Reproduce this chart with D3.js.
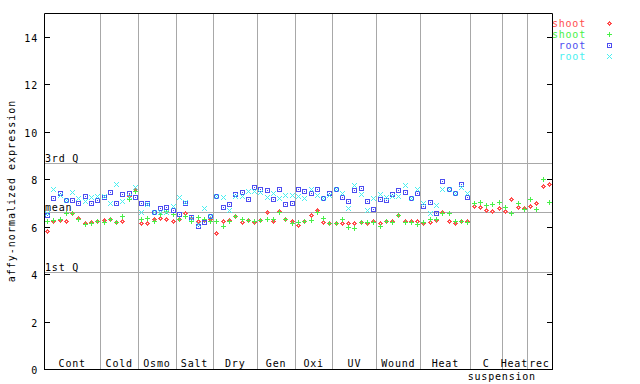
<!DOCTYPE html>
<html><head><meta charset="utf-8">
<script src="https://cdn.jsdelivr.net/npm/d3@7"></script>
<style>
body{margin:0;background:#fff}
svg{display:block}
text{font-family:"DejaVu Sans Mono",monospace;font-size:10px;letter-spacing:0.8px}
</style>
</head><body>
<svg id="c" width="640" height="384"></svg>
<script>
// ---------------- data ----------------
const groups = ["Cont","Cold","Osmo","Salt","Dry","Gen","Oxi","UV","Wound","Heat","C","Heat","rec"];
const groupSizes = [9,6,6,6,7,6,6,7,7,8,5,4,4];
const subLabel = "suspension";
const yTicks = [0,2,4,6,8,10,12,14];
const refLabels = ["3rd Q","mean","1st Q"];
const refValues = [8.69,6.62,4.09];
const seriesNames = ["shoot","shoot","root","root"];
const seriesColors = ["#ff4c4c","#48f048","#4c4cf0","#48f0f0"];

const shoot1 = [5.80,6.25,6.27,6.25,6.55,6.37,6.16,6.20,6.25,
  6.27,6.30,6.20,6.25,7.27,7.60,
  6.16,6.13,6.30,6.35,6.30,6.25,
  6.30,6.55,6.35,6.25,6.27,6.32,
  5.73,6.22,6.27,6.46,6.20,6.27,6.20,
  6.27,6.60,6.25,6.65,6.30,6.22,
  6.08,6.25,6.50,6.69,6.20,6.16,
  6.13,6.16,6.16,6.16,6.18,6.16,6.25,
  6.13,6.22,6.22,6.47,6.22,6.25,6.25,
  6.16,6.18,6.27,6.62,6.25,6.16,6.25,6.25,
  6.86,6.83,6.69,6.67,6.79,
  6.65,7.14,6.83,6.79,
  6.88,6.97,7.72,7.77];
const shoot2 = [6.25,6.27,6.30,6.55,6.55,6.30,6.10,6.15,6.25,
  6.20,6.32,6.20,6.43,7.14,7.50,
  6.30,6.37,6.25,6.51,6.65,6.51,
  6.30,6.46,6.22,6.41,6.30,6.25,
  6.22,6.04,6.22,6.43,6.32,6.27,6.25,
  6.27,6.32,6.30,6.60,6.32,6.13,
  6.18,6.25,6.27,6.60,6.36,6.13,
  6.13,6.30,5.99,5.95,6.20,6.18,6.18,
  6.04,6.22,6.20,6.49,6.20,6.18,6.12,
  6.20,6.30,6.32,6.58,6.55,6.25,6.25,6.20,
  7.00,7.02,6.90,6.93,7.02,
  6.83,6.55,7.00,6.74,
  7.14,6.74,7.98,7.04];
const root1 = [6.50,7.20,7.40,7.10,7.10,7.00,7.28,7.00,7.10,
  7.25,7.46,7.00,7.35,7.42,7.25,
  7.00,7.00,6.60,6.78,6.83,6.69,
  6.51,7.00,6.39,6.04,6.19,6.46,
  7.28,6.83,6.93,7.35,7.46,7.14,7.67,
  7.60,7.54,7.14,7.58,6.93,6.97,
  7.60,7.50,7.42,7.58,7.21,7.42,
  7.60,7.25,7.08,7.52,7.63,7.08,6.74,
  7.17,7.12,7.38,7.54,7.46,7.18,7.42,
  6.88,7.04,6.58,7.91,7.56,7.42,7.80,7.25];
const root2 = [6.57,7.60,7.31,7.10,7.46,7.21,7.07,7.25,7.28,
  7.28,6.97,7.81,7.07,7.28,7.67,
  6.60,6.93,6.62,6.60,6.60,6.88,
  7.25,7.02,6.36,6.10,6.78,6.43,
  7.28,7.25,6.70,7.28,7.28,7.49,7.50,
  7.46,7.25,7.42,7.21,7.31,7.32,
  7.28,7.21,7.60,7.33,7.21,7.32,
  7.60,7.42,6.78,7.74,7.38,6.70,7.21,
  7.35,7.24,7.28,7.28,7.74,7.21,7.60,
  6.99,6.58,6.92,7.58,7.58,7.42,7.68,7.42];

// ---------------- layout ----------------
const L = 44, R = 552, T = 13, B = 369;
const nSamples = d3.sum(groupSizes);
const svg = d3.select("#c");
const x = d3.scaleLinear().domain([0, nSamples]).range([L, R]);
const y = d3.scaleLinear().domain([0, 15]).range([B + 0.5, T + 0.25]);
const grey = "#a8a8a8";
const row = v => Math.floor(y(v)) + 0.5;

// group boundaries
const bounds = [0];
groupSizes.forEach(s => bounds.push(bounds[bounds.length - 1] + s));

// vertical separators
svg.append("g").selectAll("line").data(bounds.slice(1, -1)).join("line")
  .attr("x1", d => Math.round(x(d)) + 0.5).attr("x2", d => Math.round(x(d)) + 0.5)
  .attr("y1", T).attr("y2", B)
  .attr("stroke", grey).attr("stroke-width", 1);

// reference lines
svg.append("g").selectAll("line").data(refValues).join("line")
  .attr("x1", L).attr("x2", R)
  .attr("y1", d => row(d)).attr("y2", d => row(d))
  .attr("stroke", grey).attr("stroke-width", 1);
svg.append("g").selectAll("text").data(refLabels).join("text")
  .attr("x", L + 1).attr("y", (d, i) => Math.floor(y(refValues[i])) - 1)
  .attr("fill", "#000").text(d => d);

// frame
svg.append("path")
  .attr("d", `M${L + 0.5},${T + 0.5}H${R + 0.5}V${B + 0.5}H${L + 0.5}Z`)
  .attr("fill", "none").attr("stroke", "#000").attr("stroke-width", 1);

// y ticks (left and right, inward)
const tk = svg.append("g");
tk.selectAll("line.l").data(yTicks).join("line").attr("class", "l")
  .attr("x1", L).attr("x2", L + 6).attr("y1", d => row(d)).attr("y2", d => row(d))
  .attr("stroke", "#000");
tk.selectAll("line.r").data(yTicks).join("line").attr("class", "r")
  .attr("x1", R - 5).attr("x2", R + 1).attr("y1", d => row(d)).attr("y2", d => row(d))
  .attr("stroke", "#000");
tk.selectAll("text").data(yTicks).join("text")
  .attr("x", 38).attr("y", d => row(d) + 4)
  .attr("text-anchor", "end").text(d => d);

// y axis title
svg.append("text")
  .attr("transform", "translate(15,191) rotate(-90)")
  .attr("text-anchor", "middle").style("letter-spacing", "1px")
  .text("affy-normalized expression");

// group labels
svg.append("g").selectAll("text").data(groups).join("text")
  .attr("x", (d, i) => x((bounds[i] + bounds[i + 1]) / 2))
  .attr("y", 367).attr("text-anchor", "middle").text(d => d);
svg.append("text").attr("x", x(bounds[11])).attr("y", 380)
  .attr("text-anchor", "middle").text(subLabel);

// ---------------- markers (pixel shapes) ----------------
function pix(list) {
  return (px, py) => list.map(([dx, dy]) => `M${px + dx},${py + dy}h1v1h-1z`).join("");
}
const diamondPx = [], plusPx = [], squarePx = [], crossPx = [];
for (let dx = -2; dx <= 2; dx++) for (let dy = -2; dy <= 2; dy++) {
  const m = Math.abs(dx) + Math.abs(dy);
  if (m === 1 || m === 2) diamondPx.push([dx, dy]);
  if (dx === 0 || dy === 0) plusPx.push([dx, dy]);
  if (Math.abs(dx) === 2 || Math.abs(dy) === 2 || (dx === 0 && dy === 0)) squarePx.push([dx, dy]);
  if (Math.abs(dx) === Math.abs(dy)) crossPx.push([dx, dy]);
}
const shapes = [pix(diamondPx), pix(plusPx), pix(squarePx), pix(crossPx)];
const allSeries = [shoot1, shoot2, root1, root2];

allSeries.forEach((vals, s) => {
  svg.append("g").selectAll("path").data(vals).join("path")
    .attr("d", (v, i) => shapes[s](Math.round(x(i + 0.5)), Math.floor(y(v))))
    .attr("fill", seriesColors[s]);
});

// legend
const lg = svg.append("g");
seriesNames.forEach((n, s) => {
  const ly = 27 + s * 11;
  lg.append("text").attr("x", 586).attr("y", ly).attr("text-anchor", "end")
    .attr("fill", seriesColors[s]).text(n);
  lg.append("path").attr("d", shapes[s](609, ly - 4)).attr("fill", seriesColors[s]);
});
</script>
</body></html>
